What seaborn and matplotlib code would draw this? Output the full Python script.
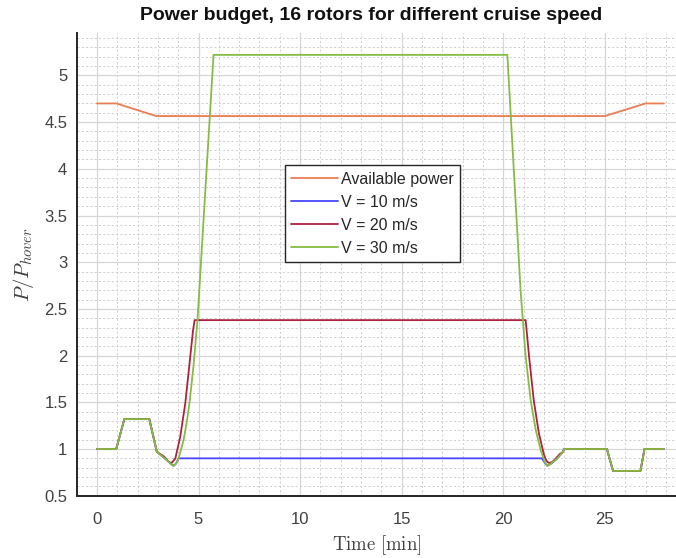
import numpy as np
import pandas as pd
import matplotlib
matplotlib.use("Agg")
import matplotlib.pyplot as plt
from matplotlib.ticker import MultipleLocator, FuncFormatter
import seaborn as sns

# ---- data ----
t_avail = [0.0, 0.96, 2.92, 25.0, 27.0, 27.9]
p_avail = [4.70, 4.70, 4.565, 4.565, 4.70, 4.70]

t_v10 = [0.0, 0.95, 1.35, 2.58, 2.95, 3.50, 3.77, 3.90, 4.02, 21.9, 22.05, 22.17, 22.4, 22.66, 22.9, 23.0, 25.1, 25.4, 26.75, 26.95, 27.9]
p_v10 = [1.0, 1.0, 1.32, 1.32, 0.97, 0.87, 0.82, 0.845, 0.90, 0.90, 0.85, 0.82, 0.85, 0.90, 0.96, 1.0, 1.0, 0.765, 0.765, 1.0, 1.0]

t_v20 = [0.0, 0.95, 1.35, 2.58, 2.95, 3.30, 3.50, 3.61, 3.72, 3.86, 4.10, 4.35, 4.56, 4.73, 4.81, 21.1, 21.27, 21.5, 21.75, 22.0, 22.13, 22.25, 22.4, 22.55, 22.8, 22.9, 23.0, 25.1, 25.4, 26.75, 26.95, 27.9]
p_v20 = [1.0, 1.0, 1.32, 1.32, 0.97, 0.92, 0.87, 0.85, 0.86, 0.90, 1.13, 1.49, 1.92, 2.27, 2.38, 2.38, 1.99, 1.52, 1.17, 0.94, 0.87, 0.85, 0.86, 0.89, 0.95, 0.96, 1.0, 1.0, 0.765, 0.765, 1.0, 1.0]

t_v30 = [0.0, 0.95, 1.35, 2.58, 2.95, 3.50, 3.65, 3.77, 3.90, 4.02, 4.27, 4.43, 4.57, 4.75, 4.95, 5.74, 20.2, 20.85, 21.1, 21.35, 21.6, 21.84, 22.02, 22.17, 22.32, 22.66, 22.9, 23.0, 25.1, 25.4, 26.75, 26.95, 27.9]
p_v30 = [1.0, 1.0, 1.32, 1.32, 0.97, 0.87, 0.835, 0.82, 0.845, 0.90, 1.10, 1.30, 1.52, 1.88, 2.38, 5.22, 5.22, 2.70, 1.99, 1.52, 1.20, 0.99, 0.87, 0.82, 0.84, 0.90, 0.96, 1.0, 1.0, 0.765, 0.765, 1.0, 1.0]

series_names = ["Available power", "V = 10 m/s", "V = 20 m/s", "V = 30 m/s"]
series_t = [t_avail, t_v10, t_v20, t_v30]
series_p = [p_avail, p_v10, p_v20, p_v30]
colors = ["#EC7C52", "#4646FF", "#B0203F", "#86BC44"]

title = "Power budget, 16 rotors for different cruise speed"
xticks = [0, 5, 10, 15, 20, 25]
yticks = [0.5, 1, 1.5, 2, 2.5, 3, 3.5, 4, 4.5, 5]

df = pd.concat([pd.DataFrame({"t": t, "p": p, "series": n})
                for n, t, p in zip(series_names, series_t, series_p)], ignore_index=True)

# ---- styling ----
sns.set_theme(style="white")
plt.rcParams["font.family"] = ["Liberation Sans", "DejaVu Sans"]
plt.rcParams["mathtext.fontset"] = "cm"

fig = plt.figure(figsize=(6.76, 5.58), dpi=100)
W, H = 676, 558
ax = fig.add_axes([77 / W, 62.3 / H, (W - 77) / W, 462.3 / H])

for name, col in zip(series_names, colors):
    sub = df[df["series"] == name]
    sns.lineplot(data=sub, x="t", y="p", ax=ax, color=col, lw=1.3, sort=False,
                 label=name, estimator=None)

ax.set_xlim(-0.98, 28.5)
ax.set_ylim(0.5, 5.45)
ax.set_xticks(xticks)
ax.set_yticks(yticks)
ax.xaxis.set_minor_locator(MultipleLocator(1))
ax.yaxis.set_minor_locator(MultipleLocator(0.1))
fmt = FuncFormatter(lambda v, pos: "%g" % v)
ax.xaxis.set_major_formatter(fmt)
ax.yaxis.set_major_formatter(fmt)

ax.grid(True, which="major", color="#d6d6d6", lw=0.9, ls="-")
ax.grid(True, which="minor", color="#cfcfcf", lw=0.7, ls=(0, (2.2, 2.2)))
ax.set_axisbelow(True)

for s in ["top", "right"]:
    ax.spines[s].set_visible(False)
for s in ["left", "bottom"]:
    ax.spines[s].set_color("#262626")
    ax.spines[s].set_linewidth(1.4)

ax.tick_params(which="major", direction="in", length=5, width=1.0, color="#262626",
               labelsize=12, labelcolor="#404040")
ax.tick_params(which="minor", direction="in", length=0)
ax.tick_params(axis="x", pad=12)
ax.tick_params(axis="y", pad=7)

ax.set_xlabel(r"$\mathrm{Time\ [min]}$", fontsize=13.5, color="#404040", labelpad=4)
ax.set_ylabel(r"$P/P_{hover}$", fontsize=15, color="#404040", labelpad=6)
fig.text(371 / W, 1 - 15 / H, title, ha="center", va="center", fontsize=14,
         fontweight="bold", color="#111111")

leg = ax.legend(loc="upper left", bbox_to_anchor=(0.347, 0.715), frameon=True,
                fancybox=False, edgecolor="#262626", framealpha=1, fontsize=11.5,
                handlelength=2.9, handletextpad=0.2, labelspacing=0.5,
                borderpad=0.4, borderaxespad=0)
leg.get_frame().set_linewidth(1.0)

fig.savefig("out.png", dpi=100)
